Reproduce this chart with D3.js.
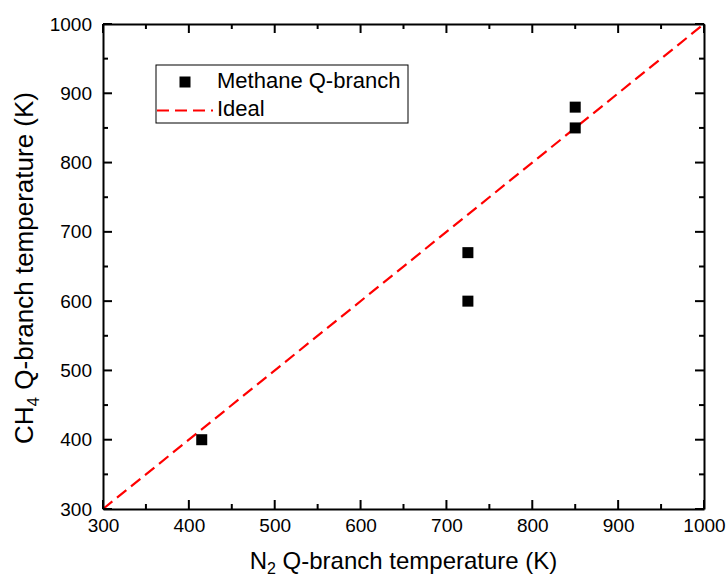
<!DOCTYPE html>
<html lang="en">
<head>
    <meta charset="UTF-8">
    <title>CH4 vs N2 Q-branch temperature</title>
    <script src="https://d3js.org/d3.v7.min.js"></script>
    <style>
        body {
            margin: 0;
            background: #fff;
            font-family: Arial, "Liberation Sans", sans-serif;
        }
        .axis path {
            stroke: #000;
            stroke-width: 2px;
        }
        .axis text {
            font-family: Arial, "Liberation Sans", sans-serif;
            font-size: 19px;
            fill: #000;
        }
    </style>
</head>
<body>
    <svg id="chart" width="727" height="579"></svg>
    <script>
        // data
        const n2Temps = [415, 725, 725, 850, 850];
        const ch4Temps = [400, 600, 670, 850, 880];
        const idealLine = [300, 1000];
        const majorTicks = [300, 400, 500, 600, 700, 800, 900, 1000];
        const minorTicks = [350, 450, 550, 650, 750, 850, 950];

        const width = 727, height = 579;
        const margin = { top: 24, right: 23, bottom: 70, left: 103 };
        const plotW = width - margin.left - margin.right;
        const plotH = height - margin.top - margin.bottom;

        const svg = d3.select("#chart");
        const g = svg.append("g").attr("transform", `translate(${margin.left},${margin.top})`);

        const x = d3.scaleLinear().domain([300, 1000]).range([0, plotW]);
        const y = d3.scaleLinear().domain([300, 1000]).range([plotH, 0]);

        // ideal line
        g.append("line")
            .attr("x1", x(idealLine[0])).attr("y1", y(idealLine[0]))
            .attr("x2", x(idealLine[1])).attr("y2", y(idealLine[1]))
            .attr("stroke", "#ff0000")
            .attr("stroke-width", 2.2)
            .attr("stroke-dasharray", "12,6");

        // data squares
        const sq = 11;
        g.selectAll(".pt")
            .data(n2Temps.map((d, i) => [d, ch4Temps[i]]))
            .enter()
            .append("rect")
            .attr("class", "pt")
            .attr("x", d => x(d[0]) - sq / 2)
            .attr("y", d => y(d[1]) - sq / 2)
            .attr("width", sq)
            .attr("height", sq)
            .attr("fill", "#000");

        // axes: labels and frame from d3 axes
        g.append("g").attr("class", "axis").attr("transform", `translate(0,${plotH})`)
            .call(d3.axisBottom(x).tickValues(majorTicks).tickSize(0).tickPadding(10).tickFormat(d3.format("d")));
        g.append("g").attr("class", "axis")
            .call(d3.axisLeft(y).tickValues(majorTicks).tickSize(0).tickPadding(11).tickFormat(d3.format("d")));
        g.append("g").attr("class", "axis")
            .call(d3.axisTop(x).tickValues(majorTicks).tickSize(0).tickFormat(""));
        g.append("g").attr("class", "axis").attr("transform", `translate(${plotW},0)`)
            .call(d3.axisRight(y).tickValues(majorTicks).tickSize(0).tickFormat(""));

        // inward tick marks on all four sides
        const ticks = majorTicks.map(v => [v, 9]).concat(minorTicks.map(v => [v, 5]));
        const tg = g.append("g").attr("stroke", "#000").attr("stroke-width", 2);
        ticks.forEach(([v, len]) => {
            const px = x(v), py = y(v);
            tg.append("path").attr("d", `M${px},${plotH}V${plotH - len}`);
            tg.append("path").attr("d", `M${px},0V${len}`);
            tg.append("path").attr("d", `M0,${py}H${len}`);
            tg.append("path").attr("d", `M${plotW},${py}H${plotW - len}`);
        });

        // axis titles
        const xt = svg.append("text")
            .attr("x", margin.left + plotW / 2)
            .attr("y", 569)
            .attr("text-anchor", "middle")
            .style("font-size", "24px");
        xt.append("tspan").text("N");
        xt.append("tspan").text("2").attr("dy", 5).style("font-size", "16px");
        xt.append("tspan").text(" Q-branch temperature (K)").attr("dy", -5);

        const yt = svg.append("text")
            .attr("transform", "translate(33,268) rotate(-90)")
            .attr("text-anchor", "middle")
            .style("font-size", "26px");
        yt.append("tspan").text("CH");
        yt.append("tspan").text("4").attr("dy", 6).style("font-size", "17px");
        yt.append("tspan").text(" Q-branch temperature (K)").attr("dy", -6);

        // legend
        const lg = svg.append("g").attr("transform", "translate(156,65)");
        lg.append("rect")
            .attr("width", 252).attr("height", 58)
            .attr("fill", "#fff").attr("stroke", "#000").attr("stroke-width", 1);
        lg.append("rect")
            .attr("x", 29 - sq / 2).attr("y", 17 - sq / 2)
            .attr("width", sq).attr("height", sq).attr("fill", "#000");
        lg.append("line")
            .attr("x1", 1).attr("x2", 57).attr("y1", 45.5).attr("y2", 45.5)
            .attr("stroke", "#ff0000").attr("stroke-width", 2.2)
            .attr("stroke-dasharray", "12,6");
        lg.append("text").attr("x", 61).attr("y", 23).style("font-size", "22px").text("Methane Q-branch");
        lg.append("text").attr("x", 61).attr("y", 51).style("font-size", "22px").text("Ideal");
    </script>
</body>
</html>
